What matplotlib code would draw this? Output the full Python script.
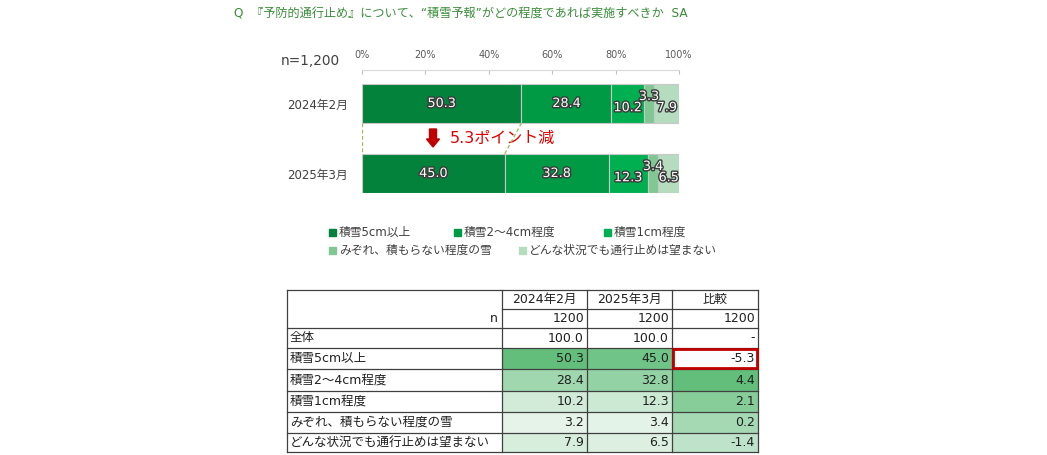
import matplotlib
matplotlib.use("Agg")
import matplotlib.pyplot as plt
import matplotlib.patheffects as pe
from matplotlib.patches import Rectangle, FancyArrow
from matplotlib.colors import LinearSegmentedColormap, Normalize
import numpy as np

plt.rcParams['font.family'] = ['DejaVu Sans', 'Noto Sans CJK JP']

# ---------------- data ----------------
title = "Q  『予防的通行止め』について、“積雪予報”がどの程度であれば実施すべきか  SA"
n_label = "n=1,200"
periods = ["2024年2月", "2025年3月"]
categories = ["積雪5cm以上", "積雪2～4cm程度", "積雪1cm程度",
              "みぞれ、積もらない程度の雪", "どんな状況でも通行止めは望まない"]
bar_2024 = [50.3, 28.4, 10.2, 3.3, 7.9]
bar_2025 = [45.0, 32.8, 12.3, 3.4, 6.5]
xticks = [0, 20, 40, 60, 80, 100]
colors = ["#03823C", "#009944", "#00B050", "#80C794", "#B5DCBF"]

table_n = [1200, 1200, 1200]
table_total = ["100.0", "100.0", "-"]
tab_2024 = [50.3, 28.4, 10.2, 3.2, 7.9]
tab_2025 = [45.0, 32.8, 12.3, 3.4, 6.5]
tab_diff = [-5.3, 4.4, 2.1, 0.2, -1.4]

W, H = 1047, 455
fig = plt.figure(figsize=(W / 100, H / 100), dpi=100)

# overlay axes in pixel coordinates for free text / table
ov = fig.add_axes([0, 0, 1, 1])
ov.set_xlim(0, W)
ov.set_ylim(H, 0)
ov.axis("off")

ov.text(234, 14, title, color="#3A8C3A", fontsize=8.75, va="center", ha="left")
ov.text(281, 61, n_label, color="#404040", fontsize=9.8, va="center", ha="left")

# ---------------- bar chart ----------------
ax_top, ax_bot = 70, 193
ax = fig.add_axes([362 / W, 1 - ax_bot / H, 317 / W, (ax_bot - ax_top) / H])
ax.set_zorder(2)
ax.patch.set_alpha(0)
bh = 39 / 70.0
ax.set_xlim(0, 100)
ax.set_ylim(1 + bh / 2, -bh / 2 - 14 / 70.0)
ypos = np.arange(len(periods))
series = [bar_2024, bar_2025]
for yi, vals in zip(ypos, series):
    left = 0
    for k, v in enumerate(vals):
        ax.barh(yi, v, left=left, height=bh, color=colors[k],
                edgecolor="#C8C8C8", linewidth=0.8)
        cx = left + v / 2
        if v >= 20:
            ty = yi
        elif k == 3:
            ty = yi - 0.1
        else:
            ty = yi + 0.06
        ax.text(cx, ty, f"{v:.1f}", ha="center", va="center", fontsize=9.2,
                color="white",
                path_effects=[pe.withStroke(linewidth=2, foreground="#3A3A3A")])
        left += v

# dashed connectors
bot2024 = ypos[0] + bh / 2
top2025 = ypos[1] - bh / 2
ax.plot([0, 0], [bot2024, top2025], ls=(0, (3, 2)), color="#9BBB59", lw=0.9)
ax.plot([bar_2024[0], bar_2025[0]], [bot2024, top2025], ls=(0, (3, 2)),
        color="#9BBB59", lw=0.9)

ax.set_yticks(ypos)
ax.set_yticklabels(periods, fontsize=8.5, color="#404040")
ax.tick_params(axis="y", length=0, pad=10)
ax.xaxis.tick_top()
ax.set_xticks(xticks)
ax.set_xticklabels([f"{t}%" for t in xticks], fontsize=7, color="#595959")
ax.tick_params(axis="x", direction="in", length=3, color="#BFBFBF", pad=7)
for s in ["right", "bottom", "left"]:
    ax.spines[s].set_visible(False)
ax.spines["top"].set_color("#D9D9D9")

# decrease annotation
diff_pt = bar_2024[0] - bar_2025[0]
ov.add_patch(FancyArrow(433, 129, 0, 18, width=7, head_width=13, head_length=8,
                        length_includes_head=True, color="#C00000", zorder=5))
ov.text(450, 138, f"{diff_pt:.1f}ポイント減", color="#E00000", fontsize=11.5,
        va="center", ha="left", zorder=5)

# legend
leg_pos = [(332, 232), (457, 232), (607, 232), (332, 250), (522, 250)]
for (lx, ly), lab, c in zip(leg_pos, categories, colors):
    ov.add_patch(Rectangle((lx - 3.5, ly - 3.5), 7, 7, color=c))
    ov.text(lx + 7, ly, lab, fontsize=8.5, color="#404040", va="center", ha="left")

# ---------------- table ----------------
col_x = [287, 502, 587, 672, 758]
row_y = [290, 309, 328, 348, 369, 391, 412, 433, 452]
line_c = "#404040"
fs = 9

cmap_main = LinearSegmentedColormap.from_list("gm", ["#E5F3E8", "#63BE7B"])
cmap_diff = LinearSegmentedColormap.from_list("gd", ["#FCFCFF", "#63BE7B"])
all_main = tab_2024 + tab_2025
norm_main = Normalize(min(all_main), max(all_main))
norm_diff = Normalize(min(tab_diff), max(tab_diff))

for i in range(len(categories)):
    r0, r1 = row_y[3 + i], row_y[4 + i]
    for j, (vals, nm, cm) in enumerate([(tab_2024, norm_main, cmap_main),
                                         (tab_2025, norm_main, cmap_main),
                                         (tab_diff, norm_diff, cmap_diff)]):
        ov.add_patch(Rectangle((col_x[1 + j], r0), col_x[2 + j] - col_x[1 + j],
                               r1 - r0, color=cm(nm(vals[i])), lw=0))

# grid lines
ov.plot([col_x[0], col_x[-1]], [row_y[0], row_y[0]], color=line_c, lw=0.9)
ov.plot([col_x[1], col_x[-1]], [row_y[1], row_y[1]], color=line_c, lw=0.9)
for y in row_y[2:]:
    ov.plot([col_x[0], col_x[-1]], [y, y], color=line_c, lw=0.9)
for x in col_x:
    ov.plot([x, x], [row_y[0], row_y[-1]], color=line_c, lw=0.9)

def rc(y0, y1):
    return (y0 + y1) / 2

headers = periods + ["比較"]
for j, h in enumerate(headers):
    ov.text((col_x[1 + j] + col_x[2 + j]) / 2, rc(row_y[0], row_y[1]), h,
            ha="center", va="center", fontsize=fs, color="#202020")
ov.text(col_x[1] - 4, rc(row_y[1], row_y[2]), "n", ha="right", va="center",
        fontsize=fs, color="#202020")
for j, v in enumerate(table_n):
    ov.text(col_x[2 + j] - 3, rc(row_y[1], row_y[2]), str(v), ha="right",
            va="center", fontsize=fs, color="#202020")
ov.text(col_x[0] + 3, rc(row_y[2], row_y[3]), "全体", ha="left", va="center",
        fontsize=fs, color="#202020")
for j, v in enumerate(table_total):
    ov.text(col_x[2 + j] - 3, rc(row_y[2], row_y[3]), v, ha="right",
            va="center", fontsize=fs, color="#202020")
for i, cat in enumerate(categories):
    yc = rc(row_y[3 + i], row_y[4 + i])
    ov.text(col_x[0] + 3, yc, cat, ha="left", va="center", fontsize=fs,
            color="#202020")
    for j, vals in enumerate([tab_2024, tab_2025, tab_diff]):
        ov.text(col_x[2 + j] - 3, yc, f"{vals[i]:.1f}", ha="right", va="center",
                fontsize=fs, color="#202020")

# red highlight on largest decrease
k = int(np.argmin(tab_diff))
ov.add_patch(Rectangle((col_x[3] + 1, row_y[3 + k] + 1), col_x[4] - col_x[3] - 2,
                       row_y[4 + k] - row_y[3 + k] - 2, fill=False,
                       edgecolor="#C00000", lw=2, zorder=6))

fig.savefig("out.png", dpi=100)
